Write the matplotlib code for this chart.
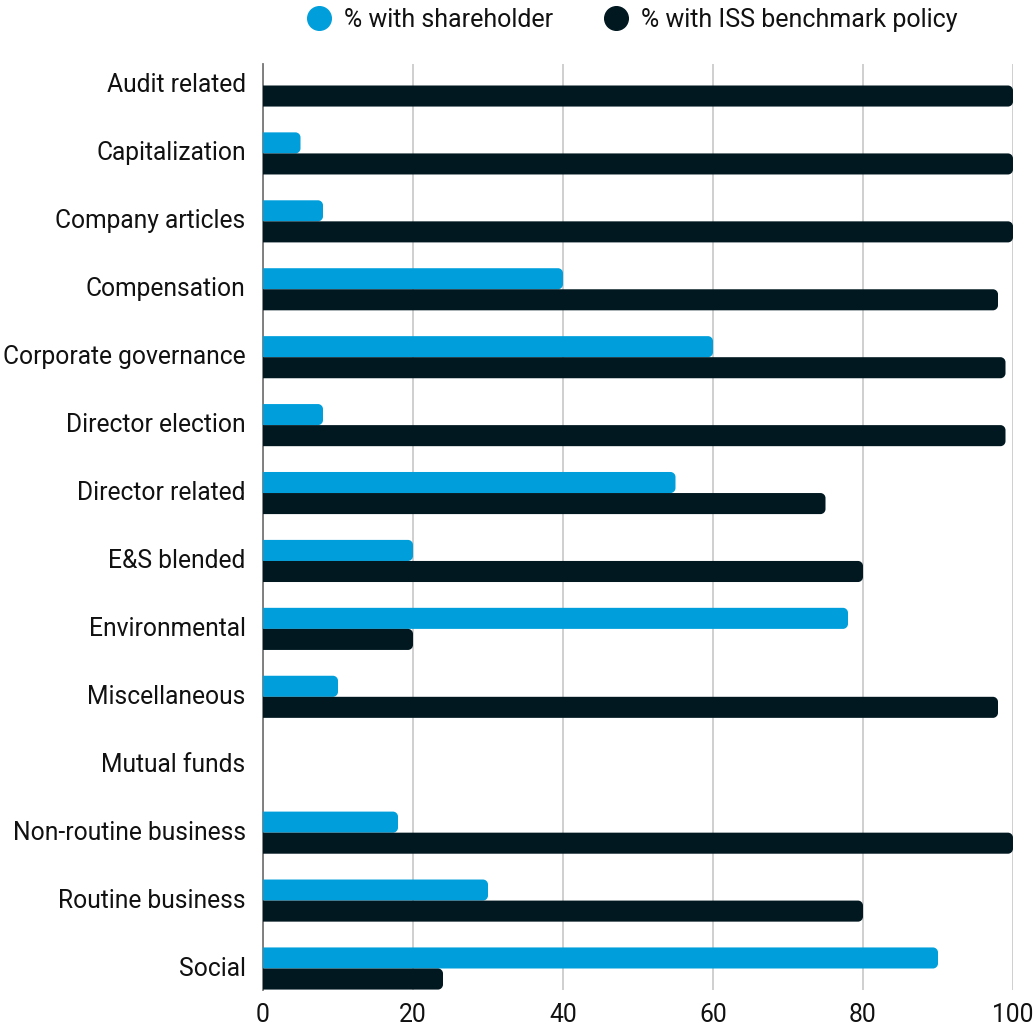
import matplotlib
matplotlib.use("Agg")
import matplotlib.pyplot as plt
from matplotlib.path import Path
from matplotlib.patches import PathPatch
from matplotlib.lines import Line2D
from matplotlib.transforms import IdentityTransform

plt.rcParams['font.family'] = ['Roboto', 'DejaVu Sans']

categories = ["Audit related", "Capitalization", "Company articles", "Compensation",
              "Corporate governance", "Director election", "Director related",
              "E&S blended", "Environmental", "Miscellaneous", "Mutual funds",
              "Non-routine business", "Routine business", "Social"]
shareholder = [0, 5, 8, 40, 60, 8, 55, 20, 78, 10, 0, 18, 30, 90]
iss_policy = [100, 100, 100, 98, 99, 99, 75, 80, 20, 98, 0, 100, 80, 24]
series_names = ["% with shareholder", "% with ISS benchmark policy"]
xticks = [0, 20, 40, 60, 80, 100]

BLUE = "#009FDB"
DARK = "#011820"

W, H, DPI = 1035, 1027, 100
fig = plt.figure(figsize=(W / DPI, H / DPI), dpi=DPI)
ax = fig.add_axes([263 / W, 1 - 990 / H, (1013 - 263) / W, (990 - 64) / H])

bh = 0.31
half = 0.633 / 2
ypos = list(range(len(categories)))
b1 = ax.barh([y - bh / 2 for y in ypos], shareholder, height=bh, color=BLUE, zorder=3)
b2 = ax.barh([y + bh / 2 for y in ypos], iss_policy, height=bh, color=DARK, zorder=3)

ax.set_xlim(0, 100)
ax.set_ylim(len(categories) - 1 + half, -half)
ax.set_yticks(ypos)
ax.set_yticklabels(categories, va='center')
ax.set_xticks(xticks)
ax.set_xticklabels([str(t) for t in xticks])
ax.tick_params(axis='y', length=0, pad=12.5, labelsize=17.7, labelcolor="#111111")
ax.tick_params(axis='x', length=0, pad=9, labelsize=17.7, labelcolor="#111111")
ax.grid(axis='x', color="#cccccc", linewidth=1.3, zorder=0)
ax.set_axisbelow(True)
for s in ["top", "right", "bottom"]:
    ax.spines[s].set_visible(False)
ax.spines["left"].set_color("#777777")
ax.spines["left"].set_linewidth(1.3)
ax.spines["left"].set_zorder(4)

# replace bars with right-rounded shapes (pixel space)
fig.canvas.draw()
r = 5.0
for cont, col in ((b1, BLUE), (b2, DARK)):
    for rect in cont:
        w = rect.get_width()
        if w <= 0:
            rect.set_visible(False)
            continue
        x0, y0 = rect.get_x(), rect.get_y()
        (px0, py0) = ax.transData.transform((x0, y0))
        (px1, py1) = ax.transData.transform((x0 + w, y0 + rect.get_height()))
        ylo, yhi = min(py0, py1), max(py0, py1)
        xl, xr = px0, px1
        rr = min(r, (yhi - ylo) / 2, xr - xl)
        k = 0.5523 * rr
        verts = [(xl, ylo), (xr - rr, ylo),
                 (xr - rr + k, ylo), (xr, ylo + rr - k), (xr, ylo + rr),
                 (xr, yhi - rr),
                 (xr, yhi - rr + k), (xr - rr + k, yhi), (xr - rr, yhi),
                 (xl, yhi), (xl, ylo)]
        codes = [Path.MOVETO, Path.LINETO,
                 Path.CURVE4, Path.CURVE4, Path.CURVE4,
                 Path.LINETO,
                 Path.CURVE4, Path.CURVE4, Path.CURVE4,
                 Path.LINETO, Path.CLOSEPOLY]
        patch = PathPatch(Path(verts, codes), facecolor=col, edgecolor='none',
                          transform=IdentityTransform(), zorder=3)
        fig.add_artist(patch)
        rect.set_visible(False)

handles = [Line2D([], [], marker='o', linestyle='none', markersize=17, color=BLUE),
           Line2D([], [], marker='o', linestyle='none', markersize=17, color=DARK)]
fig.legend(handles, series_names, loc='center', bbox_to_anchor=(632 / W, 1 - 20 / H),
           ncol=2, frameon=False, fontsize=18, handletextpad=0.5, columnspacing=2.0,
           handlelength=1.0, labelcolor="#111111")

fig.savefig("out.png", dpi=DPI)
